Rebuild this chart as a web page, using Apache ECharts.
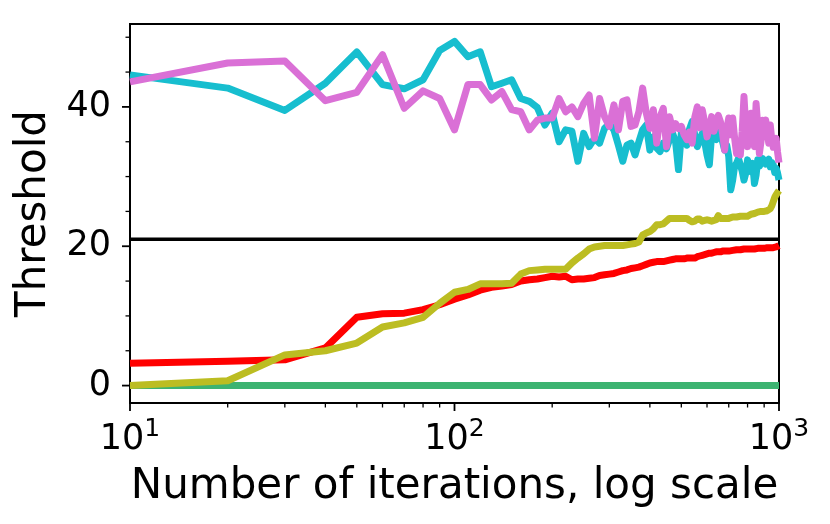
<!DOCTYPE html>
<html>
<head>
<meta charset="utf-8">
<script src="https://cdn.jsdelivr.net/npm/echarts@6/dist/echarts.min.js"></script>
<style>
  html, body { margin: 0; padding: 0; background: #fff; }
  #chart { width: 830px; height: 524px; }
</style>
</head>
<body>
<div id="chart"></div>
<script>
// iterations on the x axis (log scale)
const iterations = [
  10, 20, 30, 40, 50, 60, 70, 80, 90, 100,
  110, 120, 130, 140, 150, 160, 170, 180, 190, 200,
  210, 220, 230, 240, 250, 260, 270, 280, 290, 300,
  310, 320, 330, 340, 350, 360, 370, 380, 390, 400,
  410, 420, 430, 440, 450, 460, 470, 480, 490, 500,
  510, 520, 530, 540, 550, 560, 570, 580, 590, 600,
  610, 620, 630, 640, 650, 660, 670, 680, 690, 700,
  710, 720, 730, 740, 750, 760, 770, 780, 790, 800,
  810, 820, 830, 840, 850, 860, 870, 880, 890, 900,
  910, 920, 930, 940, 950, 960, 970, 980, 990, 1000
];

const cyanVals = [
  44.6, 42.7, 39.5, 43.4, 47.9, 43.2, 42.6, 43.9, 48.1, 49.4,
  47.2, 47.9, 42.9, 43.4, 43.9, 41.2, 40.8, 39.9, 37.4, 39.1,
  35.0, 36.7, 36.5, 32.2, 36.2, 34.3, 35.5, 34.8, 36.9, 37.6,
  36.7, 34.5, 32.2, 34.5, 34.8, 33.1, 35.0, 36.7, 37.4, 33.8,
  35.7, 34.1, 33.6, 34.8, 34.0, 35.3, 36.2, 35.0, 31.0, 36.2,
  35.5, 34.5, 36.8, 37.9, 36.0, 34.3, 35.2, 36.2, 35.0, 33.1,
  31.7, 36.0, 35.5, 35.3, 36.5, 37.2, 35.0, 33.8, 34.5, 32.9,
  28.1, 29.5, 31.5, 31.9, 32.6, 32.4, 30.8, 29.5, 30.5, 32.4,
  31.0, 30.7, 31.9, 29.0, 30.2, 32.4, 31.5, 31.9, 32.6, 32.4,
  31.8, 31.9, 32.5, 31.4, 32.0, 31.7, 30.6, 31.2, 30.5, 29.5
];

const orchidVals = [
  43.6, 46.3, 46.6, 40.9, 42.1, 47.5, 39.8, 42.3, 41.2, 36.7,
  43.2, 43.2, 41.0, 42.2, 39.6, 39.3, 36.7, 38.1, 38.4, 38.4,
  41.2, 39.3, 40.0, 38.6, 40.5, 41.7, 35.5, 41.2, 38.6, 37.2,
  40.3, 36.7, 40.8, 41.0, 37.2, 37.4, 39.3, 42.7, 39.1, 36.9,
  39.6, 34.8, 38.6, 39.8, 34.3, 38.6, 36.7, 37.6, 36.9, 37.2,
  36.0, 35.3, 36.4, 34.8, 38.5, 40.0, 37.0, 39.6, 37.8, 35.7,
  37.0, 38.6, 36.5, 37.6, 38.8, 37.9, 36.2, 33.8, 36.8, 38.4,
  36.0, 38.4, 35.5, 33.3, 35.0, 33.1, 36.5, 41.5, 37.0, 34.3,
  36.8, 39.1, 36.0, 34.3, 40.5, 37.3, 33.3, 35.0, 38.1, 37.5,
  38.1, 36.2, 34.8, 37.4, 35.3, 34.2, 34.8, 35.5, 33.5, 32.0
];

const redVals = [
  3.2, 3.5, 3.7, 5.4, 9.8, 10.3, 10.4, 10.9, 11.6, 12.4,
  13.0, 13.7, 14.1, 14.3, 14.5, 15.0, 15.2, 15.3, 15.5, 15.7,
  15.6, 15.7, 15.2, 15.3, 15.3, 15.4, 15.5, 15.8, 15.9, 16.0,
  16.1, 16.3, 16.5, 16.6, 16.8, 16.9, 17.0, 17.2, 17.4, 17.6,
  17.7, 17.8, 17.8, 17.8, 17.9, 18.0, 18.1, 18.2, 18.2, 18.2,
  18.2, 18.3, 18.3, 18.3, 18.3, 18.5, 18.6, 18.7, 18.8, 18.9,
  19.0, 19.0, 19.1, 19.2, 19.2, 19.2, 19.3, 19.3, 19.3, 19.3,
  19.4, 19.4, 19.5, 19.5, 19.5, 19.5, 19.6, 19.6, 19.6, 19.6,
  19.6, 19.6, 19.6, 19.6, 19.6, 19.7, 19.7, 19.7, 19.7, 19.7,
  19.7, 19.8, 19.8, 19.8, 19.8, 19.8, 19.9, 19.9, 20.0, 20.1
];

const oliveVals = [
  0.0, 0.7, 4.4, 5.0, 6.1, 8.4, 9.0, 9.8, 11.8, 13.4,
  13.8, 14.6, 14.6, 14.6, 14.7, 16.0, 16.5, 16.6, 16.7, 16.7,
  16.7, 16.7, 17.6, 18.3, 18.9, 19.6, 19.9, 20.0, 20.1, 20.1,
  20.1, 20.1, 20.1, 20.2, 20.3, 20.4, 20.6, 21.6, 21.9, 22.1,
  22.5, 23.1, 23.1, 23.2, 23.6, 24.0, 24.0, 24.0, 24.0, 24.0,
  24.0, 24.0, 23.7, 23.5, 23.6, 23.9, 23.9, 23.6, 23.7, 23.8,
  23.7, 23.6, 23.7, 23.8, 24.4, 24.0, 24.0, 24.0, 24.0, 24.0,
  24.1, 24.2, 24.2, 24.2, 24.2, 24.3, 24.3, 24.3, 24.3, 24.3,
  24.5, 24.6, 24.7, 24.7, 24.8, 24.9, 25.0, 25.0, 25.0, 25.0,
  25.0, 25.1, 25.2, 25.4, 25.8, 26.4, 27.0, 27.4, 27.7, 28.0
];

const greenVals = [
  0, 0, 0, 0, 0, 0, 0, 0, 0, 0,
  0, 0, 0, 0, 0, 0, 0, 0, 0, 0,
  0, 0, 0, 0, 0, 0, 0, 0, 0, 0,
  0, 0, 0, 0, 0, 0, 0, 0, 0, 0,
  0, 0, 0, 0, 0, 0, 0, 0, 0, 0,
  0, 0, 0, 0, 0, 0, 0, 0, 0, 0,
  0, 0, 0, 0, 0, 0, 0, 0, 0, 0,
  0, 0, 0, 0, 0, 0, 0, 0, 0, 0,
  0, 0, 0, 0, 0, 0, 0, 0, 0, 0,
  0, 0, 0, 0, 0, 0, 0, 0, 0, 0
];

const thresholdX = [10, 1000];
const thresholdVals = [21, 21];

// axis ticks
const xMajorTicks = [10, 100, 1000];
const xMinorTicks = [20, 30, 40, 50, 60, 70, 80, 90, 200, 300, 400, 500, 600, 700, 800, 900];
const yMajorTicks = [0, 20, 40];
const yMinorTicks = [5, 10, 15, 25, 30, 35, 45, 50];

const Y_MIN = -2.5, Y_MAX = 51.9;
const X_MIN = 10, X_MAX = 1000;
const FONT = 'DejaVu Sans';
const LW = 7;

function pairs(xs, ys) {
  return xs.map((x, i) => [x, ys[i]]);
}

function lineSeries(name, ys, color, z) {
  return {
    name: name,
    type: 'line',
    data: pairs(iterations, ys),
    showSymbol: false,
    symbol: 'none',
    z: z,
    lineStyle: { color: color, width: LW, join: 'round', cap: 'butt' },
    itemStyle: { color: color }
  };
}

const xTickData = xMajorTicks.map(v => [v, Y_MIN, 1]).concat(xMinorTicks.map(v => [v, Y_MIN, 0]));
const yTickData = yMajorTicks.map(v => [X_MIN, v, 1]).concat(yMinorTicks.map(v => [X_MIN, v, 0]));

const chart = echarts.init(document.getElementById('chart'), null, { renderer: 'canvas' });

chart.setOption({
  animation: false,
  backgroundColor: '#fff',
  grid: {
    left: 130, right: 51, top: 24, bottom: 121,
    show: true, borderColor: '#000', borderWidth: 2, backgroundColor: 'transparent'
  },
  xAxis: {
    type: 'log',
    logBase: 10,
    min: X_MIN,
    max: X_MAX,
    name: 'Number of iterations, log scale',
    nameLocation: 'middle',
    nameGap: 63,
    nameTextStyle: { fontFamily: FONT, fontSize: 42, color: '#000' },
    axisLine: { show: false },
    axisTick: { show: false },
    splitLine: { show: false },
    minorTick: { show: false },
    axisLabel: {
      margin: 14,
      formatter: v => '{b|10}{s|' + Math.round(Math.log10(v)) + '}',
      rich: {
        b: { fontFamily: FONT, fontSize: 35, color: '#000', lineHeight: 40, verticalAlign: 'bottom' },
        s: { fontFamily: FONT, fontSize: 25, color: '#000', lineHeight: 26, verticalAlign: 'top' }
      }
    }
  },
  yAxis: {
    type: 'value',
    min: Y_MIN,
    max: Y_MAX,
    interval: 2.5,
    name: 'Threshold',
    nameLocation: 'middle',
    nameGap: 70,
    nameTextStyle: { fontFamily: FONT, fontSize: 42, color: '#000' },
    axisLine: { show: false },
    axisTick: { show: false },
    splitLine: { show: false },
    axisLabel: {
      margin: 19,
      fontFamily: FONT,
      fontSize: 35,
      color: '#000',
      formatter: v => (Math.abs(v % 20) < 1e-6 ? String(v) : '')
    }
  },
  series: [
    {
      name: 'threshold',
      type: 'line',
      data: pairs(thresholdX, thresholdVals),
      symbol: 'none',
      z: 2,
      lineStyle: { color: '#000', width: 3.5 },
      itemStyle: { color: '#000' }
    },
    lineSeries('green', greenVals, '#3cb371', 3),
    lineSeries('red', redVals, '#ff0000', 4),
    lineSeries('olive', oliveVals, '#bcbd22', 5),
    lineSeries('cyan', cyanVals, '#17becf', 6),
    lineSeries('orchid', orchidVals, '#da70d6', 7),
    {
      type: 'custom',
      name: 'xticks',
      data: xTickData,
      silent: true,
      z: 10,
      renderItem: function (params, api) {
        const p = api.coord([api.value(0), api.value(1)]);
        const len = api.value(2) ? 8 : 4.5;
        return {
          type: 'line',
          shape: { x1: p[0], y1: p[1], x2: p[0], y2: p[1] + len },
          style: { stroke: '#000', lineWidth: api.value(2) ? 1.8 : 1.3 }
        };
      }
    },
    {
      type: 'custom',
      name: 'yticks',
      data: yTickData,
      silent: true,
      z: 10,
      renderItem: function (params, api) {
        const p = api.coord([api.value(0), api.value(1)]);
        const len = api.value(2) ? 8 : 4.5;
        return {
          type: 'line',
          shape: { x1: p[0] - len, y1: p[1], x2: p[0], y2: p[1] },
          style: { stroke: '#000', lineWidth: api.value(2) ? 1.8 : 1.3 }
        };
      }
    }
  ]
});
</script>
</body>
</html>
